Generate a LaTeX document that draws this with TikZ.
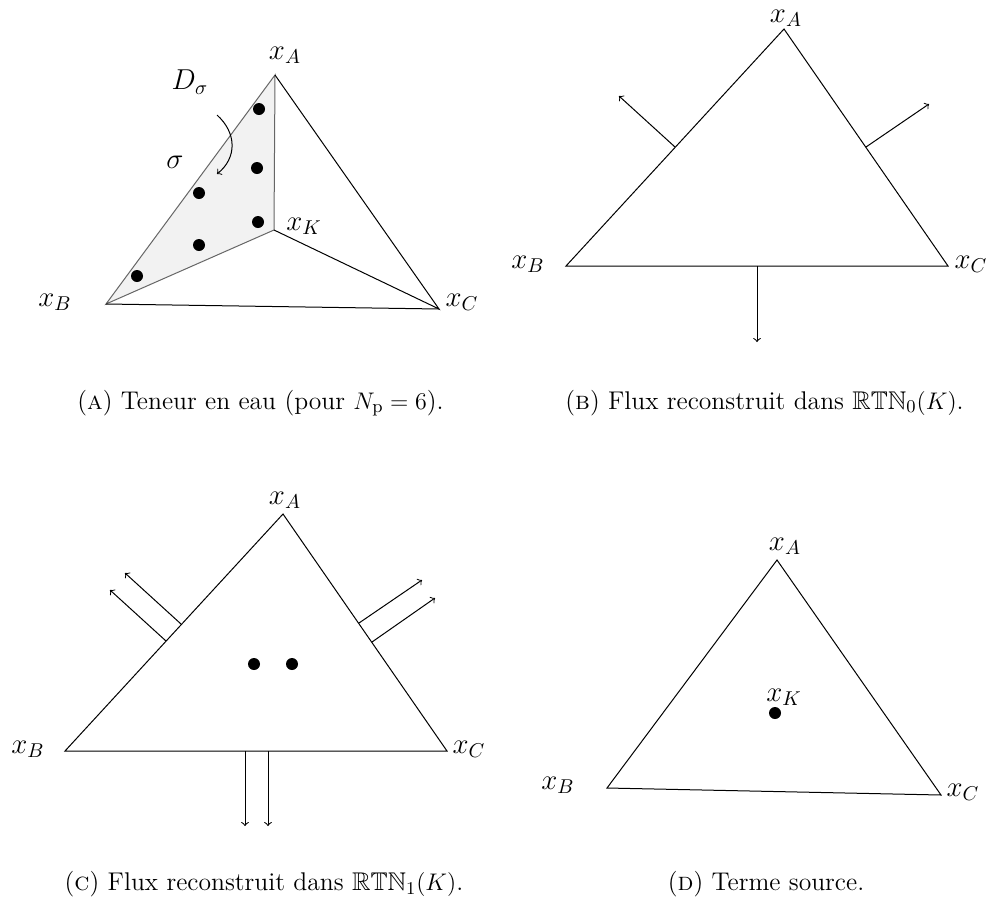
\documentclass[tikz,border=0pt]{standalone}
\usepackage{amssymb}
\usetikzlibrary{calc}
\begin{document}
\begin{tikzpicture}[x=0.5pt,y=-0.5pt,
  edge/.style={line width=0.5pt},
  gedge/.style={line width=0.5pt, draw=black!60},
  flux/.style={line width=0.5pt, ->},
  dot/.style={circle, fill=black, inner sep=0pt, minimum size=6pt},
  lbl/.style={font=\fontsize{14.4}{17}\selectfont, inner sep=0pt},
  captxt/.style={font=\fontsize{12.8}{15}\selectfont, inner sep=0pt}]
\useasboundingbox (0,0) rectangle (990,905);

% ---------------- Panel A ----------------
\coordinate (aA) at (275,75);
\coordinate (aK) at (274,230);
\coordinate (aB) at (106,304);
\coordinate (aC) at (439,309);
\fill[black!5] (aA) -- (aB) -- (aK) -- cycle;
\draw[gedge] (aA) -- (aB) -- (aK) -- cycle;
\draw[edge] (aA) -- (aC) -- (aK);
\draw[edge] (aB) -- (aC);
\node[dot] (ad1) at (259,109) {};
\node[dot] (ad2) at (257,168) {};
\node[dot] (ad3) at (199,193) {};
\node[dot] (ad4) at (258,222) {};
\node[dot] (ad5) at (199,245) {};
\node[dot] (ad6) at (137,276) {};
\coordinate (arcS) at (217,115);
\coordinate (arcE) at (217,174);
\draw[flux] (arcS) .. controls (237,133) and (237,158) .. (arcE);
\node[lbl] (alA) at (285,55) {$x_A$};
\node[lbl] (alD) at (190,82) {$D_\sigma$};
\node[lbl] (als) at (175,162) {$\sigma$};
\node[lbl] (alK) at (304,226) {$x_K$};
\node[lbl] (alB) at (55,302) {$x_B$};
\node[lbl] (alC) at (462,302) {$x_C$};
\node[captxt, anchor=west] (capA) at (77,403) {(\textsc{a}) Teneur en eau (pour $N_{\mathrm{p}} = 6$).};

% ---------------- Panel B ----------------
\coordinate (bA) at (784,29);
\coordinate (bB) at (566,266);
\coordinate (bC) at (948,266);
\draw[edge] (bA) -- (bB) -- (bC) -- cycle;
\coordinate (bm1) at (675,147);
\coordinate (be1) at (619,96);
\coordinate (bm2) at (866,147);
\coordinate (be2) at (929,104);
\coordinate (bm3) at (757,266);
\coordinate (be3) at (757,342);
\draw[flux] (bm1) -- (be1);
\draw[flux] (bm2) -- (be2);
\draw[flux] (bm3) -- (be3);
\node[lbl] (blA) at (786,18) {$x_A$};
\node[lbl] (blB) at (528,264) {$x_B$};
\node[lbl] (blC) at (971,264) {$x_C$};
\node[captxt, anchor=west] (capB) at (565,403) {(\textsc{b}) Flux reconstruit dans $\mathbb{RTN}_0(K)$.};

% ---------------- Panel C ----------------
\coordinate (cA) at (283,514);
\coordinate (cB) at (65,751);
\coordinate (cC) at (447,751);
\draw[edge] (cA) -- (cB) -- (cC) -- cycle;
\coordinate (cm1) at (181,624);
\coordinate (ce1) at (125,573);
\coordinate (cm2) at (166,641);
\coordinate (ce2) at (110,590);
\coordinate (cm3) at (359,623);
\coordinate (ce3) at (422,580);
\coordinate (cm4) at (372,642);
\coordinate (ce4) at (435,598);
\coordinate (cm5) at (245,751);
\coordinate (ce5) at (245,826);
\coordinate (cm6) at (268,751);
\coordinate (ce6) at (268,826);
\draw[flux] (cm1) -- (ce1);
\draw[flux] (cm2) -- (ce2);
\draw[flux] (cm3) -- (ce3);
\draw[flux] (cm4) -- (ce4);
\draw[flux] (cm5) -- (ce5);
\draw[flux] (cm6) -- (ce6);
\node[dot] (cd1) at (254,664) {};
\node[dot] (cd2) at (292,664) {};
\node[lbl] (clA) at (285,500) {$x_A$};
\node[lbl] (clB) at (28,749) {$x_B$};
\node[lbl] (clC) at (469,749) {$x_C$};
\node[captxt] (capC) at (264,884) {(\textsc{c}) Flux reconstruit dans $\mathbb{RTN}_1(K)$.};

% ---------------- Panel D ----------------
\coordinate (dA) at (777,560);
\coordinate (dB) at (607,788);
\coordinate (dC) at (941,795);
\draw[edge] (dA) -- (dB) -- (dC) -- cycle;
\node[dot] (dK) at (775,713) {};
\node[lbl] (dlA) at (785,546) {$x_A$};
\node[lbl] (dlK) at (784,697) {$x_K$};
\node[lbl] (dlB) at (558,785) {$x_B$};
\node[lbl] (dlC) at (963,792) {$x_C$};
\node[captxt] (capD) at (766,884) {(\textsc{d}) Terme source.};
\end{tikzpicture}
\end{document}
